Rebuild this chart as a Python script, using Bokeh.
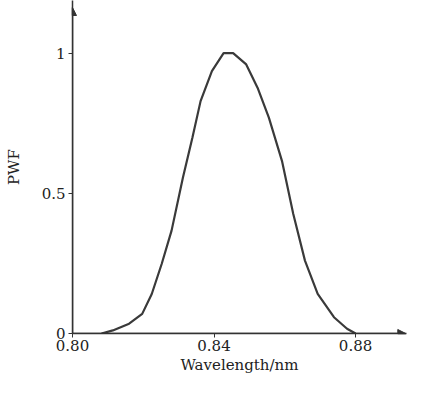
from bokeh.plotting import figure
from bokeh.models import FixedTicker, Arrow, NormalHead, Range1d
from bokeh.embed import file_html
from bokeh.resources import INLINE

wavelength = [0.8082, 0.8114, 0.8160, 0.8197, 0.8224, 0.8252, 0.8280, 0.8312,
              0.8339, 0.8362, 0.8394, 0.8427, 0.8454, 0.8491, 0.8523, 0.8555,
              0.8592, 0.8624, 0.8657, 0.8693, 0.8739, 0.8776, 0.8800]
pwf = [0.0, 0.011, 0.035, 0.070, 0.141, 0.248, 0.367, 0.556,
       0.699, 0.829, 0.936, 1.0, 1.0, 0.960, 0.877, 0.770,
       0.616, 0.426, 0.260, 0.141, 0.058, 0.017, 0.0]
x_ticks = [0.80, 0.84, 0.88]
x_tick_labels = ["0.80", "0.84", "0.88"]
y_ticks = [0, 0.5, 1]
y_tick_labels = ["0", "0.5", "1"]

FONT = "DejaVu Serif"
AX = "#333333"

p = figure(width=407, height=378, output_backend="svg", toolbar_location=None,
           x_range=Range1d(0.80, 0.8944), y_range=Range1d(0, 1.188),
           min_border_left=72, min_border_right=1, min_border_top=0,
           min_border_bottom=45)
p.outline_line_color = None
p.grid.visible = False
p.background_fill_color = "white"
p.border_fill_color = "white"

p.line(wavelength, pwf, line_color="#3a3a3a", line_width=2.2)

p.xaxis.ticker = FixedTicker(ticks=x_ticks)
p.xaxis.major_label_overrides = {t: l for t, l in zip(x_ticks, x_tick_labels)}
p.yaxis.ticker = FixedTicker(ticks=y_ticks)
p.yaxis.major_label_overrides = {t: l for t, l in zip(y_ticks, y_tick_labels)}
p.xaxis.axis_label = "Wavelength/nm"
p.yaxis.axis_label = "PWF"

for ax in (p.xaxis, p.yaxis):
    ax.axis_line_color = AX
    ax.axis_line_width = 1.5
    ax.major_tick_line_color = AX
    ax.major_tick_in = 0
    ax.major_tick_out = 4
    ax.minor_tick_line_color = None
    ax.major_label_text_font = FONT
    ax.major_label_text_font_size = "15px"
    ax.major_label_text_color = "#222222"
    ax.axis_label_text_font = FONT
    ax.axis_label_text_font_size = "15px"
    ax.axis_label_text_font_style = "normal"
    ax.axis_label_text_color = "#222222"
p.xaxis.major_label_standoff = 2
p.xaxis.axis_label_standoff = 2
p.yaxis.major_label_standoff = 3
p.yaxis.axis_label_standoff = 16

p.add_layout(Arrow(end=NormalHead(size=8, fill_color=AX, line_color=AX),
                   x_start=0.80, y_start=0, x_end=0.80, y_end=1.163,
                   line_color=AX, line_width=1.5))
p.add_layout(Arrow(end=NormalHead(size=8, fill_color=AX, line_color=AX),
                   x_start=0.80, y_start=0, x_end=0.8942, y_end=0,
                   line_color=AX, line_width=1.5))

open("out.html", "w").write(file_html(p, INLINE))
